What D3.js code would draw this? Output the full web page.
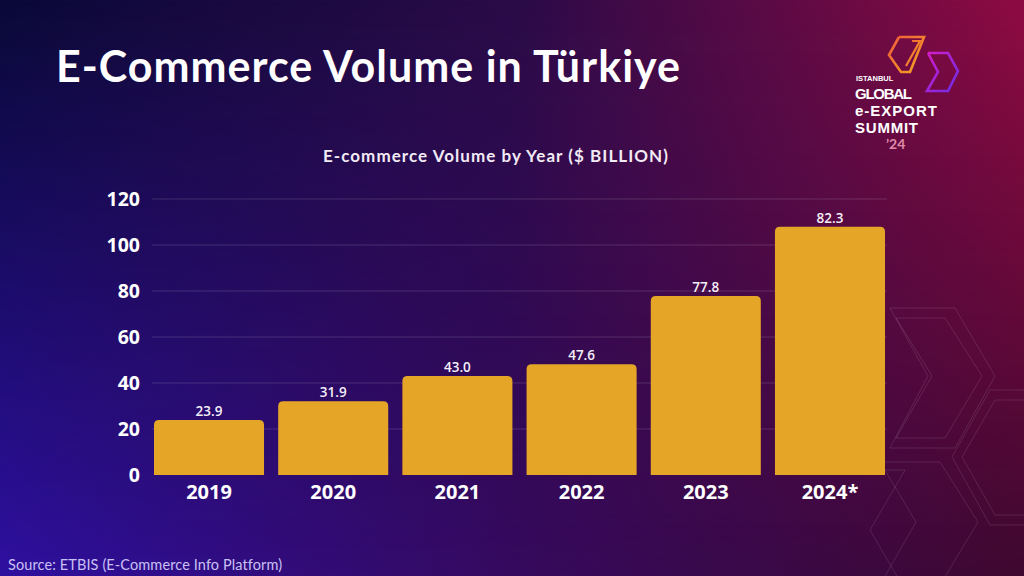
<!DOCTYPE html>
<html>
<head>
<meta charset="utf-8">
<script src="https://cdn.jsdelivr.net/npm/d3@7"></script>
<style>
  html, body { margin: 0; padding: 0; background: #1a0b4a; }
  svg { display: block; }
</style>
</head>
<body>
<svg id="chart" width="1024" height="576"></svg>
<script>
// ---- data ----
const years = ["2019", "2020", "2021", "2022", "2023", "2024*"];
const barValues = [23.9, 32.1, 43.0, 48.2, 77.8, 107.9];
const valueLabels = ["23.9", "31.9", "43.0", "47.6", "77.8", "82.3"];
const yTicks = [0, 20, 40, 60, 80, 100, 120];
const titleText = "E-Commerce Volume in Türkiye";
const subtitleText = "E-commerce Volume by Year ($ BILLION)";
const sourceText = "Source: ETBIS (E-Commerce Info Platform)";
const logoLines = ["GLOBAL", "e-EXPORT", "SUMMIT"];
const logoWidths = [57, 82, 63];

const W = 1024, H = 576;
const svg = d3.select("#chart");
const defs = svg.append("defs");

// fit a text's width by letter spacing
function fitWidth(sel, target) {
  const n = sel.text().length;
  const w = sel.node().getComputedTextLength();
  sel.attr("letter-spacing", ((target - w) / (n - 1)).toFixed(2));
}

// ---- background: bilinear gradient ----
const gTop = defs.append("linearGradient").attr("id", "gTop").attr("x1", 0).attr("x2", 1).attr("y1", 0).attr("y2", 0);
gTop.append("stop").attr("offset", 0).attr("stop-color", "#0a0938");
gTop.append("stop").attr("offset", 0.5).attr("stop-color", "#2a0b48");
gTop.append("stop").attr("offset", 1).attr("stop-color", "#8e0b42");
const gBot = defs.append("linearGradient").attr("id", "gBot").attr("x1", 0).attr("x2", 1).attr("y1", 0).attr("y2", 0);
gBot.append("stop").attr("offset", 0).attr("stop-color", "#2e10a0");
gBot.append("stop").attr("offset", 0.5).attr("stop-color", "#35095e");
gBot.append("stop").attr("offset", 1).attr("stop-color", "#3e0830");
const mg = defs.append("linearGradient").attr("id", "mg").attr("x1", 0).attr("x2", 0).attr("y1", 0).attr("y2", 1);
mg.append("stop").attr("offset", 0).attr("stop-color", "#fff").attr("stop-opacity", 0);
mg.append("stop").attr("offset", 1).attr("stop-color", "#fff").attr("stop-opacity", 1);
defs.append("mask").attr("id", "vmask").append("rect").attr("width", W).attr("height", H).attr("fill", "url(#mg)");

svg.append("rect").attr("width", W).attr("height", H).attr("fill", "url(#gTop)");
svg.append("rect").attr("width", W).attr("height", H).attr("fill", "url(#gBot)").attr("mask", "url(#vmask)");

// ---- decorative hex outlines bottom-right ----
const deco = svg.append("g").attr("fill", "none").attr("stroke", "#ffffff").attr("stroke-opacity", 0.11).attr("stroke-width", 1);
const hexShapes = [
  [[890,308],[955,308],[995,376],[955,448],[890,448],[928,376]],
  [[896,318],[945,318],[982,376],[945,438],[896,438],[932,376]],
  [[990,390],[1030,390],[1030,525],[990,525],[952,457]],
  [[995,400],[1030,400],[1030,515],[995,515],[962,457]],
  [[880,462],[940,462],[978,522],[940,585],[880,585],[916,522]],
  [[862,470],[905,470],[870,530],[905,590]]
];
hexShapes.forEach(p => deco.append("path").attr("d", d3.line()(p) + (p.length > 4 ? "Z" : "")));

// ---- logo ----
const lgA = defs.append("linearGradient").attr("id", "lgA").attr("x1", 0).attr("x2", 1).attr("y1", 0).attr("y2", 1);
lgA.append("stop").attr("offset", 0).attr("stop-color", "#f05a3a");
lgA.append("stop").attr("offset", 1).attr("stop-color", "#f5a623");
const lgB = defs.append("linearGradient").attr("id", "lgB").attr("x1", 0).attr("x2", 1).attr("y1", 0).attr("y2", 1);
lgB.append("stop").attr("offset", 0).attr("stop-color", "#d41cc8");
lgB.append("stop").attr("offset", 1).attr("stop-color", "#6a2ee8");
const logo = svg.append("g");
logo.append("path").attr("d", d3.line()([[899,37],[924,37],[910,72],[901,72],[889,55],[899,37]]))
  .attr("fill", "none").attr("stroke", "url(#lgA)").attr("stroke-width", 2.6).attr("stroke-linejoin", "miter");
logo.append("path").attr("d", d3.line()([[912,41],[920,41],[906,66]]))
  .attr("fill", "none").attr("stroke", "url(#lgA)").attr("stroke-width", 2.2);
logo.append("path").attr("d", d3.line()([[928,53],[948,53],[958,71],[948,91],[927,91],[938,72],[928,53]]))
  .attr("fill", "none").attr("stroke", "url(#lgB)").attr("stroke-width", 2.6);
const logoText = logo.append("text").attr("font-family", "Liberation Sans").attr("font-weight", 700).attr("fill", "#fff");
logoText.append("tspan").attr("x", 856).attr("y", 81).attr("font-size", 7.5).text("ISTANBUL");
logoLines.forEach((d, i) => {
  const t = logoText.append("tspan").attr("x", 855).attr("y", 99 + i * 17).attr("font-size", 15).text(d);
  fitWidth(t, logoWidths[i]);
});
logo.append("text").attr("x", 886).attr("y", 149).text("\u201924")
  .attr("font-family", "Lato").attr("font-weight", 700).attr("font-size", 14).attr("fill", "#e08aa8");

// ---- titles ----
const title = svg.append("text").attr("x", 56).attr("y", 82).text(titleText)
  .attr("font-family", "Lato").attr("font-weight", 700).attr("font-size", 43).attr("fill", "#ffffff");
fitWidth(title, 624);
const sub = svg.append("text").attr("x", 323).attr("y", 162).text(subtitleText)
  .attr("font-family", "Lato").attr("font-weight", 700).attr("font-size", 17).attr("fill", "#f2eaf5");
fitWidth(sub, 345);
const src = svg.append("text").attr("x", 8).attr("y", 570).text(sourceText)
  .attr("font-family", "Lato").attr("font-weight", 400).attr("font-size", 14.5).attr("fill", "#c9c0f5");
fitWidth(src, 274);

// ---- scales ----
const x = d3.scaleBand().domain(years).range([154, 885]).paddingInner(0.114).paddingOuter(0);
const y = d3.scaleLinear().domain([0, 120]).range([475, 199]);

// gridlines
svg.append("g").selectAll("line").data(yTicks.filter(t => t > 0)).join("line")
  .attr("x1", 152).attr("x2", 887)
  .attr("y1", d => y(d)).attr("y2", d => y(d))
  .attr("stroke", "#ffffff").attr("stroke-opacity", 0.14).attr("stroke-width", 1);

// y axis
const yAxis = svg.append("g").attr("transform", "translate(140,0)")
  .call(d3.axisLeft(y).tickValues(yTicks).tickSize(0).tickPadding(0));
yAxis.select(".domain").remove();
yAxis.selectAll("text").attr("font-family", "Open Sans").attr("font-weight", 700)
  .attr("font-size", 19.5).attr("fill", "#ffffff").attr("dy", "0.35em");

// x axis
const xAxis = svg.append("g").attr("transform", "translate(0,476)")
  .call(d3.axisBottom(x).tickSize(0).tickPadding(9));
xAxis.select(".domain").remove();
xAxis.selectAll("text").attr("font-family", "Open Sans").attr("font-weight", 700)
  .attr("font-size", 20).attr("fill", "#ffffff");

// bars with rounded top corners
const r = 5;
function barPath(d, i) {
  const x0 = x(years[i]), w = x.bandwidth();
  const top = y(d), bot = y(0);
  return `M${x0},${bot}V${top + r}Q${x0},${top} ${x0 + r},${top}H${x0 + w - r}Q${x0 + w},${top} ${x0 + w},${top + r}V${bot}Z`;
}
svg.append("g").selectAll("path").data(barValues).join("path")
  .attr("d", barPath).attr("fill", "#e5a526");

// value labels
svg.append("g").selectAll("text").data(barValues).join("text")
  .attr("x", (d, i) => x(years[i]) + x.bandwidth() / 2)
  .attr("y", d => y(d) - 4)
  .attr("text-anchor", "middle")
  .text((d, i) => valueLabels[i])
  .attr("font-family", "Open Sans").attr("font-weight", 600).attr("font-size", 13.5).attr("fill", "#f4eef8");
</script>
</body>
</html>
